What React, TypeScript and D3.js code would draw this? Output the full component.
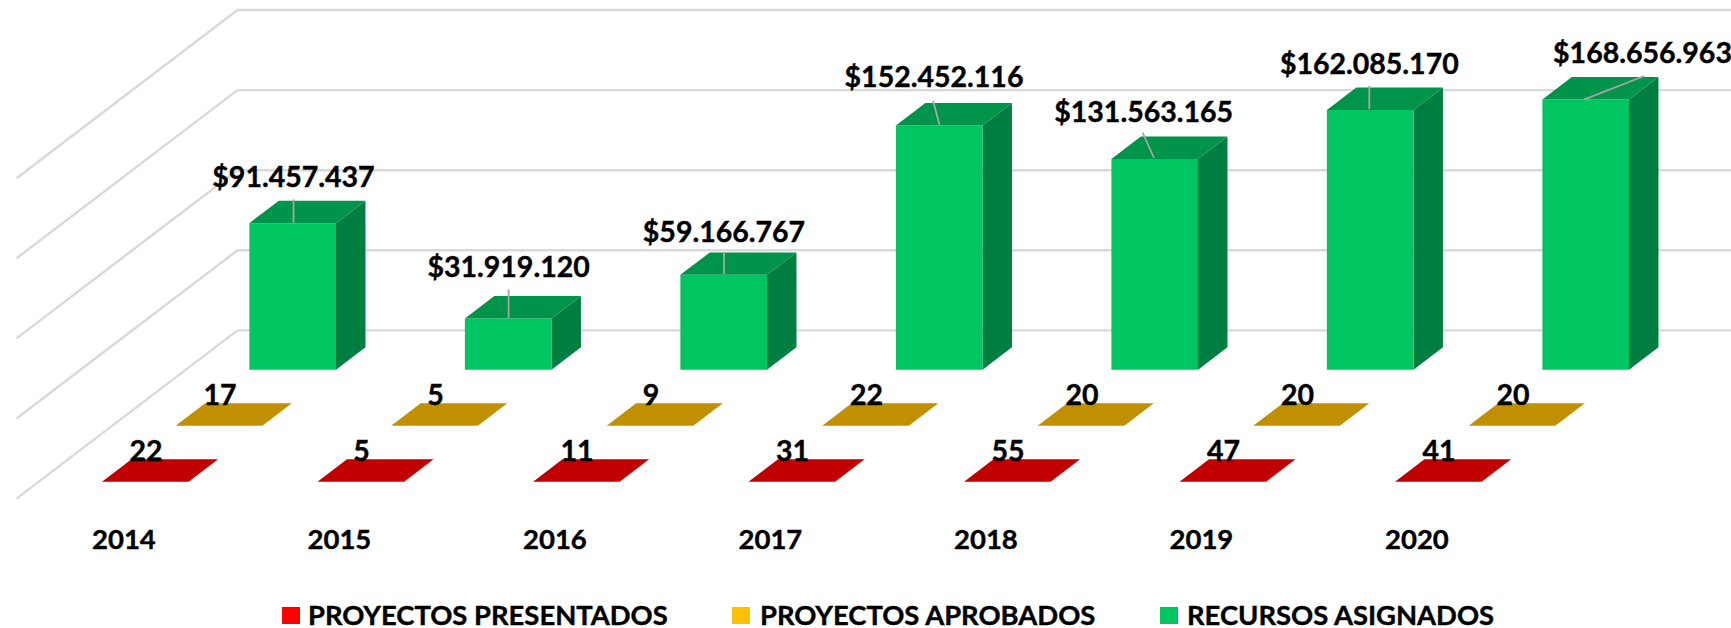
import React from "react";
import * as d3 from "d3";

const years = ["2014", "2015", "2016", "2017", "2018", "2019", "2020"];
const presentados = [22, 5, 11, 31, 55, 47, 41];
const aprobados = [17, 5, 9, 22, 20, 20, 20];
const recursos = [91457437, 31919120, 59166767, 152452116, 131563165, 162085170, 168656963];
const axisTicks = [0, 50000000, 100000000, 150000000, 200000000];
const seriesNames = ["PROYECTOS PRESENTADOS", "PROYECTOS APROBADOS", "RECURSOS ASIGNADOS"];

const W = 1731, H = 628;
const FONT = "Lato, 'Noto Sans', sans-serif";
const floorX = 16.5, floorY = 498.6, depthX = 221, depthY = 168.2;

const xBand = d3.scaleBand<string>().domain(years).range([floorX - 1, floorX - 1 + 7 * 215.5]).paddingInner(0.598).paddingOuter(0.299);
const zBand = d3.scaleBand<string>().domain(seriesNames).range([0, 1]).paddingInner(0.6).paddingOuter(0.3);
const hScale = d3.scaleLinear().domain([0, 200000000]).range([0, 320.4]);
const project = (x: number, z: number, h: number): [number, number] => [x + z * depthX, floorY - z * depthY - h];
const poly = (pts: [number, number][]) => d3.line()(pts)! + "Z";

const seriesData = [presentados, aprobados, recursos];
const legendColors = ["#FF0000", "#FFC000", "#00C561"];
const frontColors = ["#FF0000", "#FFC000", "#00C561"];
const topColors = ["#C00000", "#C09000", "#00934A"];
const sideColors = ["#C00000", "#C09000", "#007D40"];

const fmt = (v: number) => "$" + d3.format(",")(v).replace(/,/g, ".");

// label placement of the money labels: [centre x, baseline y, leader start x, leader start y, leader end x, leader end y]
const moneyLayout = [
  [293.5, 187, 293.5, 222.7, 293.5, 199.4],
  [508.6, 277, 508.6, 318, 508.6, 289.5],
  [724, 242, 724, 274, 724, 252],
  [934, 87, 939.5, 124.8, 933, 100.5],
  [1143.7, 121.5, 1154, 158, 1142.6, 132.5],
  [1369.3, 74, 1369.3, 109.3, 1369.3, 86],
  [1642.5, 62.7, 1584.4, 99.3, 1644.3, 76],
];
const legendLayout = [[282, 308], [732, 760], [1160, 1187]];

function Bar({ year, value, s }: { year: string; value: number; s: number }) {
  const x0 = xBand(year)!, x1 = x0 + xBand.bandwidth();
  const z0 = zBand(seriesNames[s])!, z1 = z0 + zBand.bandwidth();
  const h = hScale(value);
  const top = poly([project(x0, z0, h), project(x1, z0, h), project(x1, z1, h), project(x0, z1, h)]);
  const front = poly([project(x0, z0, 0), project(x1, z0, 0), project(x1, z0, h), project(x0, z0, h)]);
  const side = poly([project(x1, z0, 0), project(x1, z1, 0), project(x1, z1, h), project(x1, z0, h)]);
  return (
    <g>
      <path d={side} fill={sideColors[s]} />
      <path d={front} fill={frontColors[s]} />
      <path d={top} fill={topColors[s]} />
    </g>
  );
}

export default function App() {
  return (
    <svg width={W} height={H} viewBox={`0 0 ${W} ${H}`} style={{ position: "absolute", left: 0, top: 0, background: "#fff" }} fontFamily={FONT} fontWeight={700} fill="#000" stroke="none">
      {axisTicks.map((t) => {
        const a = project(floorX, 0, hScale(t));
        const b = project(floorX, 1, hScale(t));
        return <path key={t} d={d3.line()([a, b, [W, b[1]]])!} fill="none" stroke="#D9D9D9" strokeWidth={2.4} />;
      })}
      {[2, 1, 0].map((s) =>
        years.map((y, i) => <Bar key={y + s} year={y} value={seriesData[s][i]} s={s} />)
      )}
      {recursos.map((v, i) => {
        const [cx, by, x1, y1, x2, y2] = moneyLayout[i];
        return (
          <g key={i}>
            <line x1={x1} y1={y1} x2={x2} y2={y2} stroke="#A6A6A6" strokeWidth={1.8} />
            <text x={cx} y={by} textAnchor="middle" fontSize={28.5} stroke="#000" strokeWidth={0.4}>{fmt(v)}</text>
          </g>
        );
      })}
      {years.map((y, i) => {
        const x0 = xBand(y)!;
        return (
          <g key={y} fontSize={28.5} textAnchor="middle" stroke="#000" strokeWidth={0.4}>
            <text x={x0 + 140} y={404.5}>{aprobados[i]}</text>
            <text x={x0 + 66} y={460.5}>{presentados[i]}</text>
            <text x={x0 + 44} y={549} fontSize={27.5}>{y}</text>
          </g>
        );
      })}
      {seriesNames.map((n, i) => (
        <g key={n}>
          <rect x={legendLayout[i][0]} y={607} width={18} height={17} fill={legendColors[i]} />
          <text x={legendLayout[i][1]} y={625} fontSize={27.4} stroke="#000" strokeWidth={0.4}>{n}</text>
        </g>
      ))}
    </svg>
  );
}
